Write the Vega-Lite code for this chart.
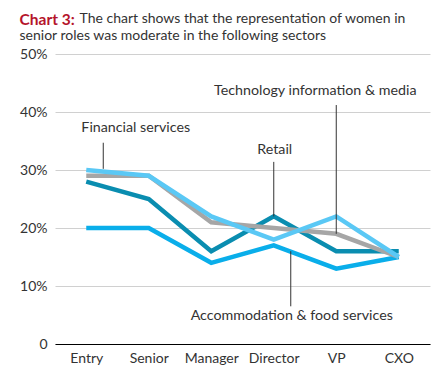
{
  "$schema": "https://vega.github.io/schema/vega-lite/v6.json",
  "width": 375,
  "height": 290,
  "autosize": {"type": "none"},
  "padding": {"left": 55, "top": 54, "right": 8, "bottom": 24},
  "background": "white",
  "config": {
    "view": {"stroke": null},
    "font": "Lato",
    "axis": {"labelFont": "Lato", "labelFontSize": 14, "labelColor": "#333333", "ticks": false, "title": null}
  },
  "title": {
    "text": "Chart 3:",
    "subtitle": ["\u2800\u2800\u2800\u2800\u2800\u2800The chart shows that the representation of women in", "senior roles was moderate in the following sectors"],
    "anchor": "start",
    "frame": "bounds",
    "font": "Lato",
    "fontSize": 15.5,
    "fontWeight": "bold",
    "color": "#b5142b",
    "subtitleFont": "Lato",
    "subtitleFontSize": 14,
    "subtitleColor": "#333333",
    "subtitleLineHeight": 17,
    "subtitlePadding": -17,
    "offset": 3
  },
  "datasets": {
    "series": [
      {"sector": "Accommodation & food services", "level": "Entry", "value": 20},
      {"sector": "Accommodation & food services", "level": "Senior", "value": 20},
      {"sector": "Accommodation & food services", "level": "Manager", "value": 14},
      {"sector": "Accommodation & food services", "level": "Director", "value": 17},
      {"sector": "Accommodation & food services", "level": "VP", "value": 13},
      {"sector": "Accommodation & food services", "level": "CXO", "value": 15},
      {"sector": "Retail", "level": "Entry", "value": 28},
      {"sector": "Retail", "level": "Senior", "value": 25},
      {"sector": "Retail", "level": "Manager", "value": 16},
      {"sector": "Retail", "level": "Director", "value": 22},
      {"sector": "Retail", "level": "VP", "value": 16},
      {"sector": "Retail", "level": "CXO", "value": 16},
      {"sector": "Technology information & media", "level": "Entry", "value": 29},
      {"sector": "Technology information & media", "level": "Senior", "value": 29},
      {"sector": "Technology information & media", "level": "Manager", "value": 21},
      {"sector": "Technology information & media", "level": "Director", "value": 20},
      {"sector": "Technology information & media", "level": "VP", "value": 19},
      {"sector": "Technology information & media", "level": "CXO", "value": 15},
      {"sector": "Financial services", "level": "Entry", "value": 30},
      {"sector": "Financial services", "level": "Senior", "value": 29},
      {"sector": "Financial services", "level": "Manager", "value": 22},
      {"sector": "Financial services", "level": "Director", "value": 18},
      {"sector": "Financial services", "level": "VP", "value": 22},
      {"sector": "Financial services", "level": "CXO", "value": 15}
    ],
    "ann": [
      {"label": "Financial services", "level": "Entry", "textLevel": "Senior", "ty": 37.2, "y1": 34.7, "y2": 30.2},
      {"label": "Technology information & media", "level": "VP", "textLevel": "VP", "ty": 43.6, "y1": 41.2, "y2": 19},
      {"label": "Retail", "level": "Director", "textLevel": "Director", "ty": 33.4, "y1": 31.4, "y2": 22},
      {"label": "Accommodation & food services", "level": "Director", "textLevel": "Director", "ty": 4.8, "y1": 16, "y2": 6.5}
    ]
  },
  "layer": [
    {
      "data": {"name": "series"},
      "mark": {"type": "line", "strokeWidth": 4.5, "strokeCap": "butt", "strokeJoin": "miter"},
      "encoding": {
        "x": {
          "field": "level", "type": "nominal",
          "scale": {"type": "point", "padding": 0.5, "domain": ["Entry", "Senior", "Manager", "Director", "VP", "CXO"]},
          "axis": {"labelAngle": 0, "labelPadding": 7, "domain": true, "domainColor": "#000000", "domainWidth": 1.2, "grid": false}
        },
        "y": {
          "field": "value", "type": "quantitative",
          "scale": {"domain": [0, 50]},
          "axis": {"values": [0, 10, 20, 30, 40, 50], "labelExpr": "datum.value == 0 ? '0' : datum.value + '%'", "domain": false, "grid": true, "gridColor": "#d0d0d0", "labelPadding": 8}
        },
        "color": {
          "field": "sector", "type": "nominal", "legend": null,
          "scale": {"domain": ["Accommodation & food services", "Retail", "Technology information & media", "Financial services"], "range": ["#0aaeea", "#0a8db0", "#a6a6a6", "#5ac8f5"]}
        }
      }
    },
    {
      "data": {"name": "ann"},
      "transform": [{"filter": "datum.label == 'Technology information & media' || datum.label == 'Retail'"}],
      "mark": {"type": "rule", "color": "#333333", "strokeWidth": 1},
      "encoding": {
        "x": {"field": "level", "type": "nominal"},
        "y": {"field": "y1", "type": "quantitative"},
        "y2": {"field": "y2"}
      }
    },
    {
      "data": {"name": "ann"},
      "transform": [{"filter": "datum.label == 'Financial services' || datum.label == 'Accommodation & food services'"}],
      "mark": {"type": "rule", "color": "#333333", "strokeWidth": 1, "xOffset": 17},
      "encoding": {
        "x": {"field": "level", "type": "nominal"},
        "y": {"field": "y1", "type": "quantitative"},
        "y2": {"field": "y2"}
      }
    },
    {
      "data": {"name": "ann"},
      "transform": [{"filter": "datum.label == 'Financial services'"}],
      "mark": {"type": "text", "fontSize": 14.25, "color": "#333333", "font": "Lato", "baseline": "middle", "dx": -13},
      "encoding": {
        "x": {"field": "textLevel", "type": "nominal"},
        "y": {"field": "ty", "type": "quantitative"},
        "text": {"field": "label"}
      }
    },
    {
      "data": {"name": "ann"},
      "transform": [{"filter": "datum.label == 'Technology information & media'"}],
      "mark": {"type": "text", "fontSize": 14.25, "color": "#333333", "font": "Lato", "baseline": "middle", "dx": -21},
      "encoding": {
        "x": {"field": "textLevel", "type": "nominal"},
        "y": {"field": "ty", "type": "quantitative"},
        "text": {"field": "label"}
      }
    },
    {
      "data": {"name": "ann"},
      "transform": [{"filter": "datum.label == 'Retail'"}],
      "mark": {"type": "text", "fontSize": 14.25, "color": "#333333", "font": "Lato", "baseline": "middle", "dx": 1},
      "encoding": {
        "x": {"field": "textLevel", "type": "nominal"},
        "y": {"field": "ty", "type": "quantitative"},
        "text": {"field": "label"}
      }
    },
    {
      "data": {"name": "ann"},
      "transform": [{"filter": "datum.label == 'Accommodation & food services'"}],
      "mark": {"type": "text", "fontSize": 14.25, "color": "#333333", "font": "Lato", "baseline": "middle", "dx": 18},
      "encoding": {
        "x": {"field": "textLevel", "type": "nominal"},
        "y": {"field": "ty", "type": "quantitative"},
        "text": {"field": "label"}
      }
    }
  ]
}
